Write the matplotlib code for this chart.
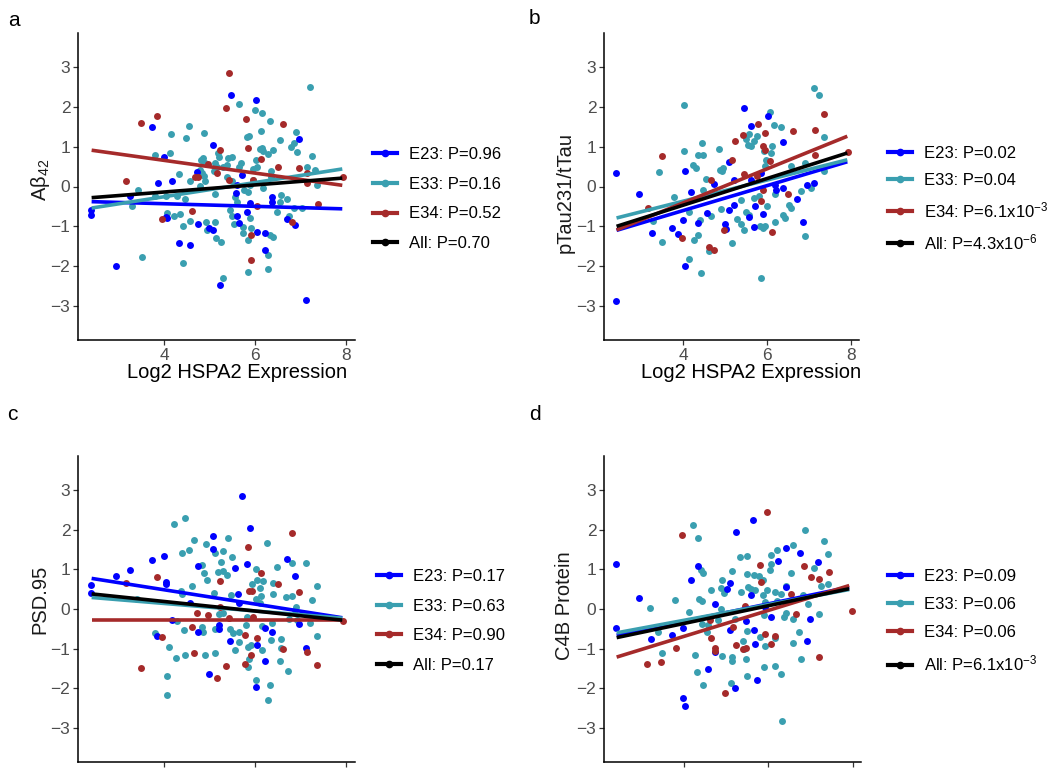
import matplotlib
matplotlib.use("Agg")
import matplotlib.pyplot as plt
from matplotlib.lines import Line2D

plt.rcParams['font.family'] = ['Liberation Sans', 'DejaVu Sans']
plt.rcParams['mathtext.fontset'] = 'custom'
plt.rcParams['mathtext.rm'] = 'Liberation Sans'
plt.rcParams['mathtext.it'] = 'Liberation Sans'
plt.rcParams['mathtext.default'] = 'regular'

groups = ["E23", "E33", "E34", "All"]
colors = {"E23": "#0000FF", "E33": "#3A9FB0", "E34": "#A52A2A", "All": "#000000"}

# ---- panel a: Abeta42 ----
a_e23_x = [2.38, 2.38, 2.93, 3.24, 3.74, 3.87, 4.00, 4.18, 4.04, 4.05, 4.33, 4.57, 4.73, 4.74, 5.08, 4.99, 5.08, 5.22,
           5.46, 5.57, 5.61, 5.65, 5.72, 5.83, 5.89, 6.02, 6.05, 6.22, 6.22, 6.37, 6.38, 6.71, 6.87, 6.97, 7.13, 5.61]
a_e23_y = [-0.60, -0.71, -1.99, -0.23, 1.49, 0.10, 0.74, 0.13, -0.76, -0.80, -1.42, -1.46, 0.36, -0.94, 1.03, -1.03,
           -1.09, -2.48, 2.29, -0.17, -0.75, -0.91, 0.28, -0.64, -0.42, 2.16, -1.15, -1.17, -1.59, -0.27, -0.38, -0.82,
           -0.96, 1.19, -2.85, 0.04]
a_e34_x = [5.43, 5.37, 3.83, 3.48, 5.79, 6.61, 5.84, 5.23, 6.13, 6.50, 6.97, 4.97, 5.17, 4.68, 3.15, 5.42, 5.96, 7.93,
           7.14, 6.05, 4.61, 3.96, 6.81, 7.38, 5.90, 5.90, 4.74, 7.14]
a_e34_y = [2.85, 1.97, 1.78, 1.60, 1.69, 1.56, 0.96, 0.92, 0.70, 0.49, 0.46, 0.57, 0.35, 0.23, 0.15, 0.17, 0.17, 0.23,
           0.08, -0.50, -0.61, -0.81, -0.90, -0.44, -1.22, -1.84, 0.25, 0.33]
a_e33_x = [7.21, 5.65, 6.00, 6.15, 6.33, 4.54, 4.88, 4.14, 4.48, 5.82, 5.87, 6.12, 6.90, 6.55, 6.79, 6.92, 6.85, 7.25,
           3.80, 4.12, 5.19, 5.21, 5.41, 5.49, 6.11, 6.15, 6.18, 6.39, 6.29, 6.02, 5.96, 6.04, 5.68, 5.65, 5.38, 5.30,
           4.80, 4.86, 4.90, 5.12, 4.79, 4.82, 4.88, 4.90, 4.32, 4.57, 4.79, 5.10, 5.17, 5.39, 5.49, 5.76, 5.84, 5.89,
           5.95, 6.17, 6.35, 6.35, 6.56, 6.70, 6.54, 6.74, 6.85, 7.03, 7.36, 7.33, 7.14, 3.43, 3.28, 3.80, 4.04, 4.27,
           4.46, 5.11, 5.55, 5.60, 5.45, 5.49, 5.73, 5.74, 5.89, 5.90, 5.85, 6.32, 6.40, 6.48, 4.05, 4.22, 4.35, 4.42,
           4.57, 4.92, 5.12, 4.93, 5.14, 5.25, 5.54, 3.50, 4.42, 5.30, 5.84, 6.29, 6.29]
a_e33_y = [2.49, 2.06, 1.91, 1.84, 1.64, 1.52, 1.35, 1.32, 1.22, 1.24, 1.26, 1.40, 1.37, 1.16, 0.99, 0.87, 1.10, 0.77,
           0.79, 0.85, 0.84, 0.74, 0.71, 0.74, 0.94, 0.97, 0.90, 0.92, 0.81, 0.67, 0.45, 0.50, 0.59, 0.49, 0.54, 0.50,
           0.67, 0.71, 0.59, 0.60, 0.42, 0.34, 0.27, 0.13, 0.31, 0.13, 0.02, 0.39, 0.49, 0.25, 0.13, -0.08, -0.13, 0.04,
           0.17, -0.04, 0.39, 0.23, -0.21, -0.31, -0.39, -0.73, -0.54, -0.54, 0.04, 0.42, 0.48, -0.10, -0.50, -0.23,
           -0.25, -0.25, -0.32, -0.20, -0.27, -0.38, -0.59, -0.75, -1.01, -1.17, -0.80, -1.05, -1.34, -1.21, -1.26,
           -0.63, -0.67, -0.75, -0.69, -1.00, -0.86, -0.90, -0.90, -1.09, -1.30, -1.39, -0.94, -1.78, -1.91, -2.30,
           -2.15, -2.07, -1.73]
# fitted lines: y at x = 2.4 and x = 7.92
a_fit = {"E23": (-0.38, -0.56), "E33": (-0.54, 0.44), "E34": (0.91, 0.03), "All": (-0.28, 0.21)}
a_labels = ["E23: P=0.96", "E33: P=0.16", "E34: P=0.52", "All: P=0.70"]

# ---- panel b: pTau231/tTau ----
b_e23_x = [2.39, 2.39, 2.94, 3.25, 3.73, 3.86, 4.00, 4.03, 4.03, 4.18, 4.35, 4.56, 4.74, 4.99, 5.02, 5.08, 5.08, 5.22,
           5.22, 5.46, 5.56, 5.62, 5.61, 5.68, 5.72, 5.86, 5.90, 6.02, 6.18, 6.22, 6.39, 6.37, 6.71, 6.87, 6.96, 7.12]
b_e23_y = [0.34, -2.86, -0.18, -1.17, -1.03, -1.19, -0.83, 0.40, -1.99, -0.14, -0.92, -0.67, 0.06, -0.94, -1.07, 0.61,
           -0.58, 0.17, -0.46, 1.96, -0.77, 1.51, 0.17, -1.02, -0.50, 0.34, -0.68, 1.76, 0.05, -0.08, 1.11, -0.04, -0.31,
           -0.88, 0.05, 0.10]
b_e34_x = [7.37, 7.14, 6.61, 5.78, 5.96, 5.43, 5.24, 5.90, 5.94, 3.49, 5.16, 5.44, 7.14, 7.94, 4.66, 5.90, 5.85, 6.49,
           3.16, 3.96, 4.62, 4.74, 4.96, 6.13, 5.77, 6.07]
b_e34_y = [1.83, 1.42, 1.38, 1.58, 1.35, 1.30, 1.14, 1.01, 0.91, 0.76, 0.67, 0.32, 0.78, 0.87, 0.17, -0.10, -0.36,
           -0.20, -0.54, -1.29, -1.52, -1.60, -1.10, -1.13, 0.27, 0.65]
b_e33_x = [7.13, 7.25, 4.02, 6.06, 6.17, 6.33, 5.56, 5.50, 5.54, 5.61, 5.70, 5.77, 4.45, 4.02, 4.86, 4.34, 4.46, 3.42,
           4.24, 4.30, 4.88, 4.92, 4.94, 4.54, 3.78, 3.28, 3.49, 4.14, 4.26, 4.34, 4.14, 4.42, 4.48, 4.40, 4.66, 4.62,
           4.90, 5.16, 5.29, 5.38, 5.46, 5.38, 5.50, 5.58, 5.68, 5.80, 5.82, 5.90, 5.85, 5.94, 6.00, 5.94, 5.98, 6.10,
           6.12, 5.93, 6.18, 6.18, 6.39, 6.43, 6.52, 6.57, 6.57, 6.81, 6.91, 7.05, 6.92, 7.37, 7.37]
b_e33_y = [2.47, 2.29, 2.04, 1.88, 1.55, 1.48, 1.31, 1.18, 1.05, 1.01, 1.14, 1.26, 1.08, 0.88, 0.95, 0.78, 0.80, 0.36,
           0.53, 0.47, 0.42, 0.38, 0.47, 0.20, -0.27, -0.86, -1.38, -0.64, -1.35, -1.21, -1.82, -2.16, -0.08, -0.83,
           -0.73, -1.63, -0.57, -1.42, -0.82, -0.94, -1.09, -0.33, -0.63, -0.71, -0.29, -0.25, -1.00, -1.03, -2.30,
           -0.99, -0.50, 0.51, 0.67, 0.84, 1.01, 0.89, -0.20, -0.90, -0.71, -0.79, -0.46, -0.54, 0.52, -0.12, 0.59,
           -0.04, -1.25, 0.38, 1.25]
b_fit = {"E23": (-1.10, 0.62), "E33": (-0.79, 0.67), "E34": (-1.09, 1.26), "All": (-1.00, 0.84)}
b_labels = ["E23: P=0.02", "E33: P=0.04", "E34: P=6.1x10$^{-3}$", "All: P=4.3x10$^{-6}$"]

# ---- panel c: PSD.95 ----
c_e23_x = [2.38, 2.38, 2.93, 3.24, 3.73, 4.00, 4.03, 4.04, 4.18, 3.85, 4.57, 4.74, 4.74, 5.07, 5.07, 4.99, 5.21, 5.21,
           5.45, 5.56, 5.62, 5.65, 5.71, 5.83, 5.89, 6.01, 6.05, 6.22, 6.21, 6.38, 6.70, 6.88, 6.96, 7.12]
c_e23_y = [0.60, 0.41, 0.84, 0.98, 1.23, 1.34, 0.67, 0.63, -0.28, -0.69, 0.14, 1.09, -0.59, 1.83, 1.51, -1.64, -0.40,
           -0.51, -0.80, 1.02, 0.38, 0.14, 2.84, 1.13, 2.05, -1.97, -0.90, -0.49, -1.30, -0.59, 1.26, 0.83, -0.38, -0.97]
c_e34_x = [6.81, 5.84, 6.13, 3.83, 3.15, 5.23, 6.50, 6.97, 5.87, 5.94, 4.73, 4.97, 5.43, 4.61, 3.96, 5.78, 6.05, 6.61,
           7.14, 4.65, 5.90, 5.78, 5.36, 7.36, 3.48, 5.15, 7.93, 5.23, 5.96]
c_e34_y = [1.90, 1.56, 0.90, 0.81, 0.66, 0.71, 0.62, 0.43, 0.46, 0.46, -0.09, -0.15, -0.22, -0.46, -0.71, -0.66, -0.74,
           -1.01, -1.07, -1.11, -1.17, -1.38, -1.43, -1.41, -1.49, -1.74, -0.30, 0.06, -0.20]
c_e33_x = [4.46, 4.21, 6.27, 4.54, 4.40, 4.66, 4.91, 5.40, 5.29, 5.12, 5.49, 4.82, 5.24, 4.88, 5.19, 5.30, 5.38, 4.93,
           4.61, 4.36, 4.40, 5.10, 5.47, 6.02, 5.94, 6.04, 6.18, 6.11, 6.13, 6.10, 6.01, 6.40, 6.49, 6.81, 6.82, 6.68,
           6.90, 7.12, 7.36, 7.25, 6.40, 3.41, 3.79, 4.11, 4.26, 4.46, 4.05, 4.05, 4.44, 4.82, 4.86, 4.90, 5.11, 5.12,
           5.45, 5.52, 5.65, 5.56, 5.65, 5.85, 5.90, 5.85, 5.87, 5.80, 6.15, 6.01, 6.33, 6.29, 6.35, 6.54, 6.57, 6.57,
           6.72, 6.88, 6.92, 7.21, 7.36, 5.21, 5.29, 5.82, 4.27, 6.15, 6.37, 6.74]
c_e33_y = [2.29, 2.15, 1.67, 1.48, 1.42, 1.73, 1.64, 1.78, 1.46, 1.40, 1.31, 1.10, 1.18, 0.91, 0.94, 0.96, 0.85, 0.73,
           0.58, 0.46, 0.37, 0.41, 0.35, 1.00, 0.63, 0.74, 0.70, 0.54, 0.33, 0.14, 0.25, 0.66, 1.05, 1.16, 0.33, 0.29,
           0.06, 1.15, 0.59, 0.23, 0.39, 0.25, -0.61, -0.95, -1.24, -1.15, -1.68, -2.17, -0.53, -0.46, -0.57, -1.15,
           -1.10, -0.50, -0.51, -0.61, -0.57, -1.03, -0.82, -0.95, -0.90, -1.47, -1.26, -0.40, -1.03, -1.78, -1.91,
           -2.30, -0.78, -1.30, -0.76, -0.99, -1.57, -0.03, -0.28, -0.36, -0.68, -0.13, -0.09, -0.19, -0.31, -0.42,
           -0.36, -0.24]
c_fit = {"E23": (0.77, -0.22), "E33": (0.29, -0.23), "E34": (-0.28, -0.28), "All": (0.38, -0.28)}
c_labels = ["E23: P=0.17", "E33: P=0.63", "E34: P=0.90", "All: P=0.17"]

# ---- panel d: C4B Protein ----
d_e23_x = [2.38, 2.38, 2.92, 3.22, 3.72, 3.98, 3.98, 4.02, 4.17, 4.34, 4.56, 4.73, 4.73, 5.02, 5.10, 5.09, 5.22, 5.24,
           5.48, 5.58, 5.64, 5.65, 5.68, 5.73, 5.91, 6.07, 6.24, 6.41, 6.41, 6.75, 6.91, 7.00, 7.17]
d_e23_y = [1.14, -0.49, 0.28, -0.75, -0.66, -0.49, -2.24, -2.43, 0.72, 1.07, -1.50, 0.12, -1.08, 0.51, 0.66, -0.54,
           -2.00, 1.93, -0.30, 0.34, 2.24, -0.52, -0.87, -1.79, 0.05, -0.20, 1.22, 1.54, 0.55, 1.41, -0.80, -0.25, 1.19]
d_e34_x = [5.98, 3.96, 5.80, 6.84, 7.43, 7.02, 7.20, 6.54, 6.65, 4.62, 4.65, 4.73, 4.73, 3.81, 3.13, 3.46, 5.17, 5.24,
           5.40, 5.46, 5.91, 6.07, 6.15, 4.97, 7.20, 7.98, 5.44, 5.83]
d_e34_y = [2.44, 1.87, 1.11, 1.07, 0.92, 0.80, 0.76, 0.37, -0.12, -0.28, -0.72, -0.97, -1.05, -0.98, -1.39, -1.33,
           -0.45, -0.90, -1.01, -0.97, -0.64, -0.89, -0.69, -2.11, -1.21, -0.06, 0.07, 0.68]
d_e33_x = [4.22, 4.34, 6.87, 7.31, 7.41, 6.58, 6.21, 6.06, 5.50, 5.32, 6.06, 4.40, 4.46, 5.13, 5.49, 5.66, 5.78, 6.03,
           4.91, 5.87, 6.54, 7.08, 7.25, 7.41, 4.65, 4.87, 4.94, 4.36, 4.42, 3.79, 3.20, 4.12, 4.43, 4.56, 4.54, 4.80,
           4.87, 5.22, 5.34, 5.52, 5.58, 5.68, 5.87, 5.98, 6.17, 6.29, 6.43, 6.21, 6.37, 6.41, 6.58, 6.95, 6.82, 7.20,
           3.39, 3.47, 4.26, 4.31, 4.46, 4.91, 5.13, 5.13, 5.11, 5.40, 5.43, 5.48, 5.50, 5.50, 5.81, 5.89, 5.93, 5.89,
           6.15, 6.15, 6.31, 6.32, 6.58, 6.74, 6.78, 5.91]
d_e33_y = [2.12, 1.79, 2.00, 1.72, 1.39, 1.62, 1.49, 1.36, 1.33, 1.31, 1.14, 0.97, 0.91, 0.95, 0.87, 0.85, 0.82, 0.97,
           0.74, 0.72, 0.90, 1.03, 0.59, 0.64, 0.47, 0.54, 0.41, 0.26, 0.20, 0.22, 0.03, -0.08, -0.37, -0.41, -0.58,
           -0.28, 0.01, -0.24, 0.43, 0.55, 0.51, 0.49, 0.36, 0.49, 0.43, 0.37, 0.59, 0.19, -0.20, -0.10, -0.24, 0.13,
           0.34, -0.13, -0.58, -1.10, -1.15, -1.58, -1.92, -1.18, -1.20, -1.31, -1.86, -0.80, -1.00, -1.27, -0.55,
           -1.68, -0.70, -0.16, -0.94, -1.47, -1.44, -0.74, -1.63, -2.82, -0.85, -0.59, -1.25, 0.18]
d_fit = {"E23": (-0.66, 0.55), "E33": (-0.60, 0.49), "E34": (-1.21, 0.59), "All": (-0.72, 0.51)}
d_labels = ["E23: P=0.09", "E33: P=0.06", "E34: P=0.06", "All: P=6.1x10$^{-3}$"]

fit_x = [2.4, 7.92]

W, H = 1050, 777
fig = plt.figure(figsize=(W / 100, H / 100), dpi=100)


def px_axes(left, top, right, bottom):
    return fig.add_axes([left / W, 1 - bottom / H, (right - left) / W, (bottom - top) / H])


panels = [
    dict(box=(78, 33, 355, 340), letter="a", lpos=(8, 20), ylabel=r"A$\beta_{42}$", ylab_y=0.52,
         pts={"E23": (a_e23_x, a_e23_y), "E33": (a_e33_x, a_e33_y), "E34": (a_e34_x, a_e34_y)},
         fit=a_fit, labels=a_labels, leg=(373, 199), spacing=0.88, xlab=True),
    dict(box=(604, 33, 859, 340), letter="b", lpos=(529, 18), ylabel="pTau231/tTau", ylab_y=0.48,
         pts={"E23": (b_e23_x, b_e23_y), "E33": (b_e33_x, b_e33_y), "E34": (b_e34_x, b_e34_y)},
         fit=b_fit, labels=b_labels, leg=(888, 199), spacing=0.72, xlab=True),
    dict(box=(78, 456, 355, 762), letter="c", lpos=(7, 415), ylabel="PSD.95", ylab_y=0.53,
         pts={"E23": (c_e23_x, c_e23_y), "E33": (c_e33_x, c_e33_y), "E34": (c_e34_x, c_e34_y)},
         fit=c_fit, labels=c_labels, leg=(377, 621), spacing=0.88, xlab=False),
    dict(box=(604, 456, 861, 762), letter="d", lpos=(529, 415), ylabel="C4B Protein", ylab_y=0.51,
         pts={"E23": (d_e23_x, d_e23_y), "E33": (d_e33_x, d_e33_y), "E34": (d_e34_x, d_e34_y)},
         fit=d_fit, labels=d_labels, leg=(888, 621), spacing=0.8, xlab=False),
]

for p in panels:
    ax = px_axes(*p["box"])
    for g in ["E33", "E23", "E34"]:
        xs, ys = p["pts"][g]
        ax.scatter(xs, ys, s=25, color=colors[g], linewidths=0, zorder=2)
    for g in groups:
        ax.plot(fit_x, p["fit"][g], color=colors[g], lw=2.6, solid_capstyle="butt", zorder=3)

    ax.set_xlim(2.1, 8.2)
    ax.set_ylim(-3.85, 3.85)
    ax.set_xticks([4, 6, 8])
    ax.set_yticks([-3, -2, -1, 0, 1, 2, 3])
    ax.set_yticklabels(["\u22123", "\u22122", "\u22121", "0", "1", "2", "3"])
    for s in ["top", "right"]:
        ax.spines[s].set_visible(False)
    for s in ["left", "bottom"]:
        ax.spines[s].set_linewidth(1.1)
    ax.tick_params(length=3.5, width=0.9, color="#333333", labelcolor="#4D4D4D", labelsize=12.5, pad=2)
    if p["xlab"]:
        ax.set_xlabel("Log2 HSPA2 Expression", fontsize=14.5)
        ax.xaxis.set_label_coords(0.575, -0.107)
        ax.xaxis.label.set_va("center")
    else:
        ax.set_xticklabels([])
    ax.set_ylabel(p["ylabel"], fontsize=14.5, color="#1a1a1a")
    l, t, r, b = p["box"]
    ax.yaxis.set_label_coords((565 - 604) / (r - l) if l > 500 else (40 - 78) / (r - l), p["ylab_y"])
    ax.yaxis.label.set_va("center")

    fig.text(p["lpos"][0] / W, 1 - p["lpos"][1] / H, p["letter"], fontsize=15, ha="left", va="center")

    handles = [Line2D([], [], color=colors[g], lw=3, marker="o", markersize=4.5) for g in groups]
    ax.legend(handles, p["labels"], loc="center left",
              bbox_to_anchor=(p["leg"][0] / W, 1 - p["leg"][1] / H), bbox_transform=fig.transFigure,
              frameon=False, fontsize=12, handlelength=1.45, handletextpad=0.72, labelspacing=p["spacing"],
              borderpad=0, borderaxespad=0)

fig.savefig("out.png", dpi=100)
